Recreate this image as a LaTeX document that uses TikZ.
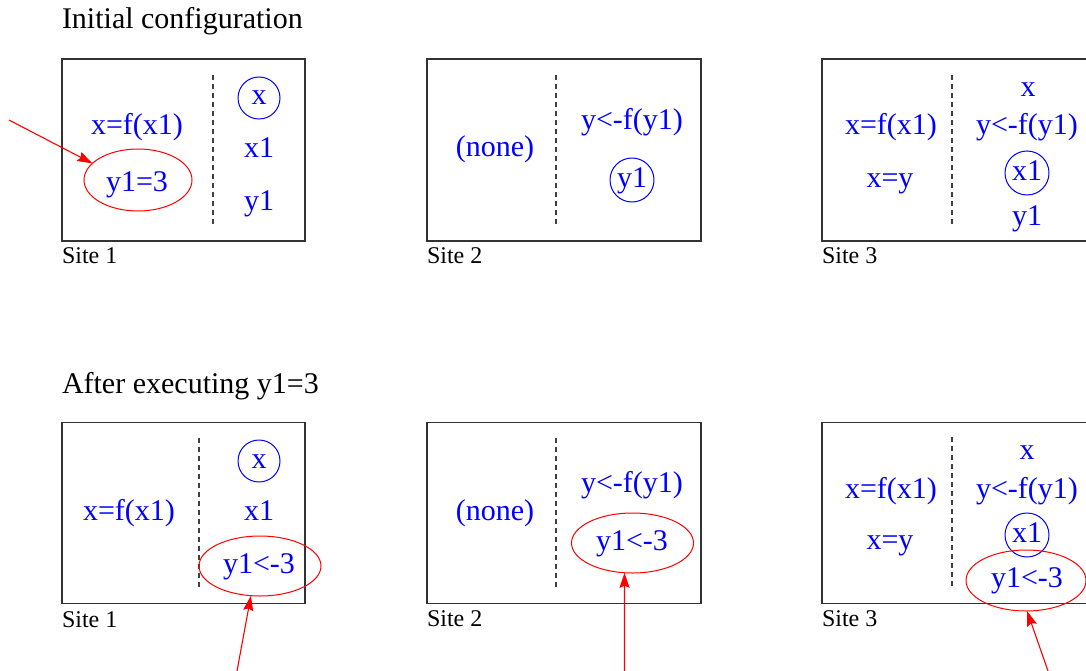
\documentclass[tikz,border=0pt]{standalone}
\usepackage{fontspec}
\setmainfont{Liberation Serif}
\usetikzlibrary{arrows.meta,shapes.geometric}
\begin{document}
\begin{tikzpicture}[x=1pt,y=-1pt,
  every node/.style={inner sep=0pt, outer sep=0pt},
  vtext/.style={anchor=base, text=blue, font=\fontsize{30}{36}\selectfont},
  heading/.style={anchor=base west, font=\fontsize{30}{36}\selectfont},
  sitelabel/.style={anchor=base west, font=\fontsize{24}{28}\selectfont},
  sitebox/.style={draw=black!80, line width=1.2pt, anchor=north west},
  divider/.style={draw=black!75, line width=1.3pt, dash pattern=on 5pt off 4pt},
  varcircle/.style={circle, draw=blue, line width=1pt, minimum size=#1},
  varcircle/.default=43pt,
  hilite/.style={ellipse, draw=red, line width=1pt},
  pointer/.style={draw=red, line width=1.1pt, -{Stealth[length=15pt,width=10pt,inset=2pt]}}
]
\useasboundingbox (0,0) rectangle (1086,671);
\clip (0,0) rectangle (1086,671);

% ---------------- top row ----------------
\node[heading] (title1) at (62,29) {Initial configuration};

% Site 1
\node[sitebox, minimum width=243pt, minimum height=182pt] (box1a) at (62,59) {};
\draw[divider] (213,75) -- (213,225);
\node[vtext] (a1f) at (137,135) {x=f(x1)};
\node[vtext] (a1y) at (137,192) {y1=3};
\node[hilite, minimum width=108pt, minimum height=62pt] (e1a) at (138,180) {};
\node[varcircle=42pt] (c1a) at (259,98) {};
\node[vtext] (a1x) at (259,105) {x};
\node[vtext] (a1x1) at (259,158) {x1};
\node[vtext] (a1y1) at (259,210) {y1};
\node[sitelabel] (l1a) at (62,263) {Site 1};
\coordinate (p1) at (9,120);
\draw[pointer] (p1) -- (e1a.160);

% Site 2
\node[sitebox, minimum width=274pt, minimum height=182pt] (box2a) at (427,59) {};
\draw[divider] (556,75) -- (556,225);
\node[vtext] (a2n) at (495,157) {(none)};
\node[vtext] (a2f) at (632,130) {y<-f(y1)};
\node[varcircle=44pt] (c2a) at (632,180) {};
\node[vtext] (a2y1) at (632,187) {y1};
\node[sitelabel] (l2a) at (427,263) {Site 2};

% Site 3
\node[sitebox, minimum width=280pt, minimum height=182pt] (box3a) at (822,59) {};
\draw[divider] (952,75) -- (952,225);
\node[vtext] (a3f) at (891,135) {x=f(x1)};
\node[vtext] (a3e) at (890,188) {x=y};
\node[vtext] (a3x) at (1028,97) {x};
\node[vtext] (a3g) at (1027,135) {y<-f(y1)};
\node[varcircle=44pt] (c3a) at (1027,173) {};
\node[vtext] (a3x1) at (1027,181) {x1};
\node[vtext] (a3y1) at (1027,225) {y1};
\node[sitelabel] (l3a) at (822,263) {Site 3};

% ---------------- bottom row ----------------
\node[heading] (title2) at (62,393) {After executing y1=3};

% Site 1
\node[sitebox, minimum width=243pt, minimum height=181pt] (box1b) at (62,422.5) {};
\draw[divider] (199,438) -- (199,588);
\node[vtext] (b1f) at (129,520) {x=f(x1)};
\node[varcircle=42pt] (c1b) at (259,461) {};
\node[vtext] (b1x) at (259,468) {x};
\node[vtext] (b1x1) at (259,520) {x1};
\node[vtext] (b1y1) at (259,573) {y1<-3};
\node[hilite, minimum width=122pt, minimum height=60pt] (e1b) at (260,566) {};
\node[sitelabel] (l1b) at (62,627) {Site 1};
\coordinate (p2) at (237,671);
\draw[pointer] (p2) -- (e1b.253);

% Site 2
\node[sitebox, minimum width=274pt, minimum height=181pt] (box2b) at (427,422.5) {};
\draw[divider] (556,438) -- (556,588);
\node[vtext] (b2n) at (495,520) {(none)};
\node[vtext] (b2f) at (632,492) {y<-f(y1)};
\node[vtext] (b2y1) at (632,550) {y1<-3};
\node[hilite, minimum width=122pt, minimum height=60pt] (e2b) at (632.5,543) {};
\node[sitelabel] (l2b) at (427,626) {Site 2};
\coordinate (p3) at (624.5,671);
\draw[pointer] (p3) -- (e2b.255);

% Site 3
\node[sitebox, minimum width=280pt, minimum height=181pt] (box3b) at (822,422.5) {};
\draw[divider] (952,437) -- (952,588);
\node[vtext] (b3f) at (891,498) {x=f(x1)};
\node[vtext] (b3e) at (890,549) {x=y};
\node[vtext] (b3x) at (1027,459) {x};
\node[vtext] (b3g) at (1027,498) {y<-f(y1)};
\node[varcircle=44pt] (c3b) at (1027,535) {};
\node[vtext] (b3x1) at (1027,542) {x1};
\node[vtext] (b3y1) at (1027,587) {y1<-3};
\node[hilite, minimum width=120pt, minimum height=61pt] (e3b) at (1026,580.5) {};
\node[sitelabel] (l3b) at (822,626) {Site 3};
\coordinate (p4) at (1048,671);
\draw[pointer] (p4) -- (e3b.272);
\end{tikzpicture}
\end{document}
